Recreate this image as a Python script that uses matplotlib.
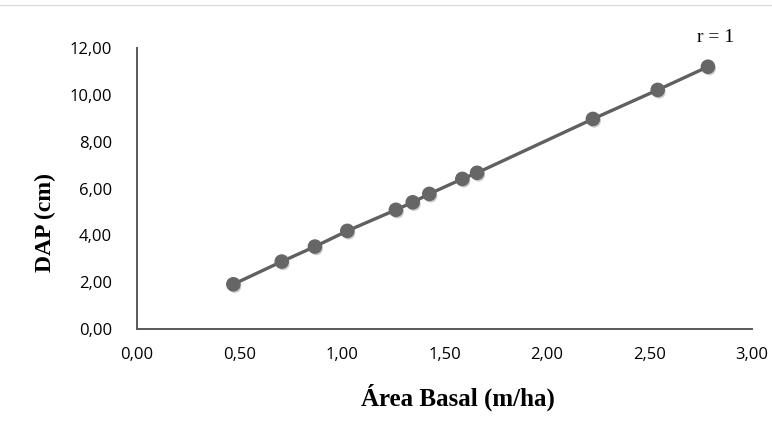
import matplotlib
matplotlib.use("Agg")
import matplotlib.pyplot as plt
import matplotlib.patheffects as pe
from matplotlib.ticker import FuncFormatter, MultipleLocator
from matplotlib.lines import Line2D

area_basal = [0.47, 0.706, 0.868, 1.026, 1.263, 1.345, 1.426, 1.587, 1.659, 2.224, 2.54, 2.785]
dap = [1.91, 2.88, 3.52, 4.19, 5.09, 5.41, 5.77, 6.41, 6.67, 8.97, 10.21, 11.2]
annotation = "r = 1"
x_label = "Área Basal (m/ha)"
y_label = "DAP (cm)"

fig = plt.figure(figsize=(7.72, 4.26), dpi=100)
fig.patch.set_facecolor("white")
ax = fig.add_axes([137/772, 1-329/426, (752-137)/772, (329-48)/426])

# top thin border line
fig.add_artist(Line2D([0, 1], [1-5/426, 1-5/426], transform=fig.transFigure,
                      color="#dddddd", lw=1))

ax.plot(area_basal, dap, color="#606060", lw=2.4, zorder=2)
ax.plot(area_basal, dap, linestyle="none", marker="o", markersize=9.5,
        markerfacecolor="#666666", markeredgecolor="#666666", zorder=3,
        path_effects=[pe.SimplePatchShadow(offset=(1, -1.5), shadow_rgbFace="#999999", alpha=0.5),
                      pe.Normal()])

ax.set_xlim(0, 3)
ax.set_ylim(0, 12)
ax.xaxis.set_major_locator(MultipleLocator(0.5))
ax.yaxis.set_major_locator(MultipleLocator(2))
fmt = FuncFormatter(lambda v, p: f"{v:.2f}".replace(".", ","))
ax.xaxis.set_major_formatter(fmt)
ax.yaxis.set_major_formatter(fmt)

for s in ["top", "right"]:
    ax.spines[s].set_visible(False)
for s in ["left", "bottom"]:
    ax.spines[s].set_color("#595959")
    ax.spines[s].set_linewidth(1.4)

ax.tick_params(axis="both", length=0, labelsize=12, colors="#000000")
ax.tick_params(axis="x", pad=13)
ax.tick_params(axis="y", pad=18)
for lab in ax.get_xticklabels() + ax.get_yticklabels():
    lab.set_fontfamily("Open Sans")

fig.text(458/772, 1-397/426, x_label, ha="center", va="center",
         fontsize=18, fontweight="bold", family="Liberation Serif")
fig.text(45/772, 1-222/426, y_label, ha="center", va="center", rotation=90,
         fontsize=17, fontweight="bold", family="Liberation Serif")
fig.text(716/772, 1-37/426, annotation, ha="center", va="center",
         fontsize=14, family="Liberation Serif")

fig.savefig("out.png", dpi=100, facecolor="white")
